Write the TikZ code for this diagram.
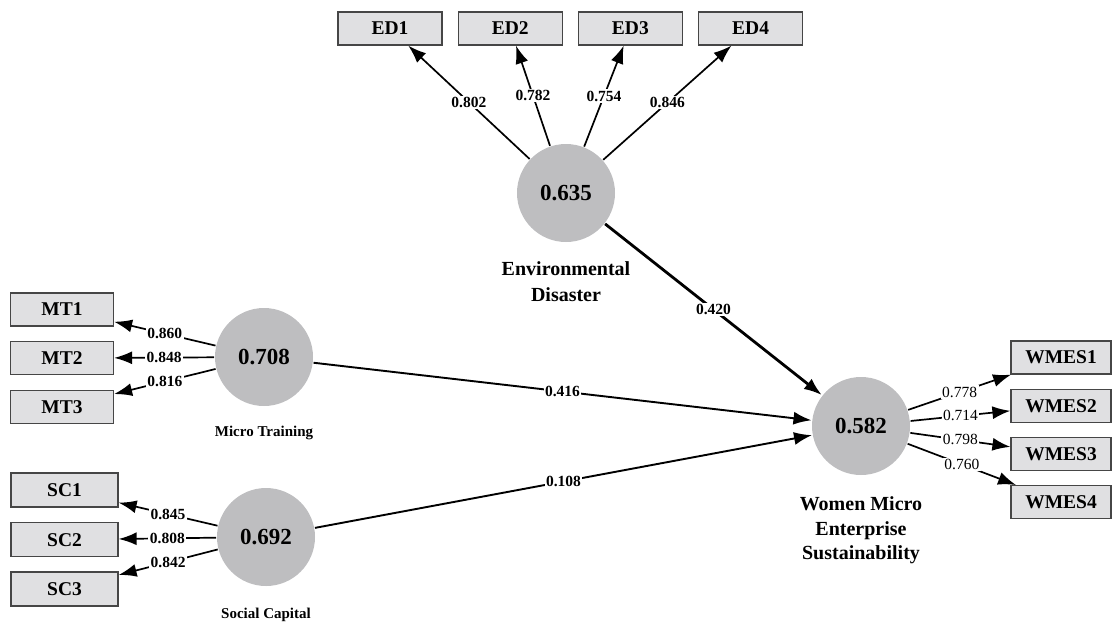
\documentclass[tikz,border=0pt]{standalone}
\usepackage{fontspec}
\setmainfont{Liberation Serif}
\usetikzlibrary{positioning,arrows.meta}
\definecolor{lvgray}{RGB}{190,190,192}
\definecolor{mvgray}{RGB}{224,224,226}
\definecolor{mvline}{RGB}{70,70,70}

\begin{document}
\begin{tikzpicture}[x=1pt,y=-1pt,->,>={Latex[length=18pt,width=13pt]},
    line width=1.7pt,
    lv/.style={circle,fill=lvgray,minimum size=98pt,inner sep=0pt,
      font=\bfseries\fontsize{23}{26}\selectfont},
    mv/.style={rectangle,draw=mvline,fill=mvgray,line width=1.2pt,
      minimum width=104pt,minimum height=33pt,inner sep=0pt,
      font=\bfseries\fontsize{19.5}{22}\selectfont},
    lbl/.style={fill=white,inner sep=1.5pt,font=\bfseries\fontsize{15.5}{17}\selectfont},
    lblr/.style={lbl,font=\fontsize{15.5}{17}\selectfont},
    lvname/.style={align=center,inner sep=0pt,
      font=\bfseries\fontsize{20}{26}\selectfont}]

  \useasboundingbox (0,0) rectangle (1113,622);

  % latent variables
  \node[lv] (ED)   at (566,193) {0.635};
  \node[lv] (MT)   at (264,357) {0.708};
  \node[lv] (SC)   at (266,537) {0.692};
  \node[lv] (WMES) at (861,426) {0.582};

  \node[lvname] [below=18pt of ED]   {Environmental\\Disaster};
  \node[lvname,font=\bfseries\fontsize{15}{17}\selectfont] [below=18pt of MT] {Micro Training};
  \node[lvname,font=\bfseries\fontsize{15}{17}\selectfont] [below=20pt of SC] {Social Capital};
  \node[lvname,font=\bfseries\fontsize{20}{24.5}\selectfont] [below=20pt of WMES] {Women Micro\\Enterprise\\Sustainability};

  % indicators
  \node[mv] (ED1) at (390,28.5)    {ED1};
  \node[mv] (ED2) [right=15pt of ED1] {ED2};
  \node[mv] (ED3) [right=15pt of ED2] {ED3};
  \node[mv] (ED4) [right=15pt of ED3] {ED4};

  \node[mv,minimum width=103pt] (MT1) at (62,309.5) {MT1};
  \node[mv,minimum width=103pt] (MT2) [below=14.5pt of MT1] {MT2};
  \node[mv,minimum width=103pt] (MT3) [below=14.5pt of MT2] {MT3};

  \node[mv,minimum width=107pt,minimum height=34pt] (SC1) at (64.5,490) {SC1};
  \node[mv,minimum width=107pt,minimum height=34pt] (SC2) [below=14.5pt of SC1] {SC2};
  \node[mv,minimum width=107pt,minimum height=34pt] (SC3) [below=14pt of SC2] {SC3};

  \node[mv,minimum width=100pt] (WMES1) at (1061,357.5) {WMES1};
  \node[mv,minimum width=100pt] (WMES2) [below=14pt of WMES1] {WMES2};
  \node[mv,minimum width=100pt] (WMES3) [below=14pt of WMES2] {WMES3};
  \node[mv,minimum width=100pt] (WMES4) [below=14pt of WMES3] {WMES4};

  % outer loadings
  \path (ED) edge node[lbl] {0.802} (ED1)
             edge node[lbl] {0.782} (ED2)
             edge node[lbl] {0.754} (ED3)
             edge node[lbl] {0.846} (ED4);
  \path (MT) edge node[lbl] {0.860} (MT1)
             edge node[lbl] {0.848} (MT2)
             edge node[lbl] {0.816} (MT3);
  \path (SC) edge node[lbl] {0.845} (SC1)
             edge node[lbl] {0.808} (SC2)
             edge node[lbl] {0.842} (SC3);
  \path (WMES) edge node[lblr] {0.778} (WMES1)
               edge node[lblr] {0.714} (WMES2)
               edge node[lblr] {0.798} (WMES3)
               edge node[lblr] {0.760} (WMES4);

  % path coefficients
  \path (ED) edge [line width=2.8pt] node[lbl] {0.420} (WMES);
  \path (MT) edge [line width=1.9pt] node[lbl] {0.416} (WMES);
  \path (SC) edge [line width=1.9pt] node[lbl] {0.108} (WMES);
\end{tikzpicture}
\end{document}
